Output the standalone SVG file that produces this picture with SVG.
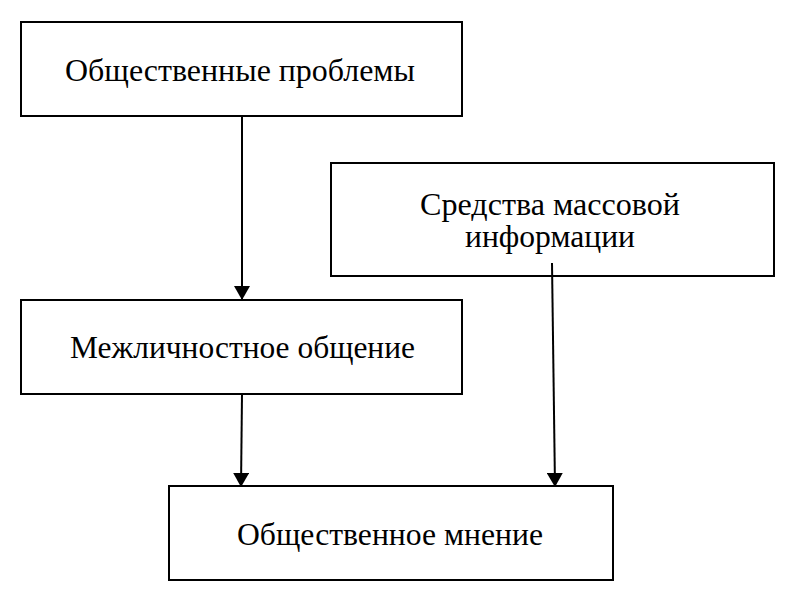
<svg xmlns="http://www.w3.org/2000/svg" width="790" height="600" viewBox="0 0 790 600">
<style>
.box{fill:#fff;stroke:#000;stroke-width:2}
.lbl{font-family:"Liberation Serif","Times New Roman",serif;font-size:31px;fill:#000}
.conn{stroke:#000;stroke-width:2;fill:none}
</style>
<defs>
<marker id="ah" viewBox="0 0 14 16" refX="14" refY="8" markerWidth="14" markerHeight="16" markerUnits="userSpaceOnUse" orient="auto">
<path d="M0,0 L14,8 L0,16 Z" fill="#000"/>
</marker>
</defs>
<rect width="790" height="600" fill="#fff"/>
<g id="n1"><rect class="box" x="21" y="22" width="441" height="94"/><text class="lbl" x="65" y="81" textLength="350" lengthAdjust="spacingAndGlyphs">Общественные проблемы</text></g>
<g id="n2"><rect class="box" x="331" y="163" width="443" height="113"/><text class="lbl" x="420" y="215" textLength="260" lengthAdjust="spacingAndGlyphs">Средства массовой</text><text class="lbl" x="465" y="247" textLength="170" lengthAdjust="spacingAndGlyphs">информации</text></g>
<g id="n3"><rect class="box" x="21" y="300" width="441" height="94"/><text class="lbl" x="70" y="358" textLength="345" lengthAdjust="spacingAndGlyphs">Межличностное общение</text></g>
<g id="n4"><rect class="box" x="169" y="486" width="444" height="94"/><text class="lbl" x="237" y="545" textLength="306" lengthAdjust="spacingAndGlyphs">Общественное мнение</text></g>
<g id="connectors">
<line class="conn" x1="242" y1="116" x2="242" y2="300" marker-end="url(#ah)"/>
<line class="conn" x1="242" y1="394" x2="241" y2="487" marker-end="url(#ah)"/>
<line class="conn" x1="552" y1="263" x2="555" y2="487" marker-end="url(#ah)"/>
</g>
</svg>
